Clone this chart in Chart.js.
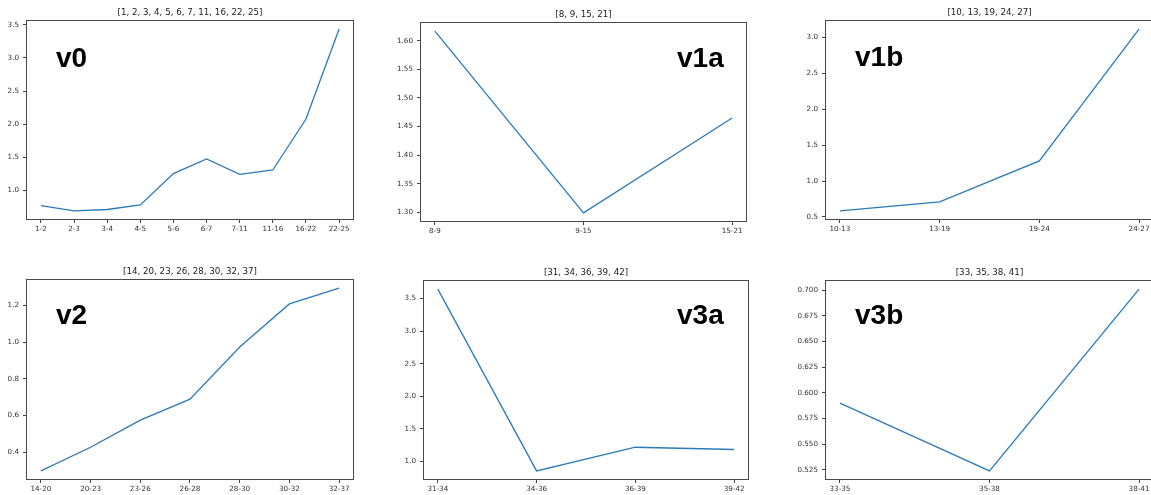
<!DOCTYPE html>
<html>
<head>
<meta charset="utf-8">
<script src="https://cdn.jsdelivr.net/npm/chart.js@4/dist/chart.umd.min.js"></script>
<style>
  html, body { margin: 0; padding: 0; background: #fff; overflow: hidden; }
  body { width: 1151px; height: 495px; position: relative; }
  canvas { position: absolute; }
</style>
</head>
<body>
<script>
// ---- data: pair ranges (x) and the value measured for each pair (y) ----
const v0Title  = '[1, 2, 3, 4, 5, 6, 7, 11, 16, 22, 25]';
const v0Labels = ['1-2', '2-3', '3-4', '4-5', '5-6', '6-7', '7-11', '11-16', '16-22', '22-25'];
const v0Values = [0.774, 0.693, 0.714, 0.783, 1.256, 1.476, 1.245, 1.310, 2.078, 3.434];
const v0Ticks  = [1.0, 1.5, 2.0, 2.5, 3.0, 3.5];

const v1aTitle  = '[8, 9, 15, 21]';
const v1aLabels = ['8-9', '9-15', '15-21'];
const v1aValues = [1.617, 1.299, 1.465];
const v1aTicks  = [1.30, 1.35, 1.40, 1.45, 1.50, 1.55, 1.60];

const v1bTitle  = '[10, 13, 19, 24, 27]';
const v1bLabels = ['10-13', '13-19', '19-24', '24-27'];
const v1bValues = [0.584, 0.709, 1.280, 3.113];
const v1bTicks  = [0.5, 1.0, 1.5, 2.0, 2.5, 3.0];

const v2Title  = '[14, 20, 23, 26, 28, 30, 32, 37]';
const v2Labels = ['14-20', '20-23', '23-26', '26-28', '28-30', '30-32', '32-37'];
const v2Values = [0.298, 0.427, 0.575, 0.689, 0.974, 1.209, 1.295];
const v2Ticks  = [0.4, 0.6, 0.8, 1.0, 1.2];

const v3aTitle  = '[31, 34, 36, 39, 42]';
const v3aLabels = ['31-34', '34-36', '36-39', '39-42'];
const v3aValues = [3.643, 0.856, 1.219, 1.184];
const v3aTicks  = [1.0, 1.5, 2.0, 2.5, 3.0, 3.5];

const v3bTitle  = '[33, 35, 38, 41]';
const v3bLabels = ['33-35', '35-38', '38-41'];
const v3bValues = [0.590, 0.524, 0.701];
const v3bTicks  = [0.525, 0.550, 0.575, 0.600, 0.625, 0.650, 0.675, 0.700];

// ---- panel layout: plot box (left, top, right, bottom) in page pixels ----
const panels = [
  { tag: 'v0',  title: v0Title,  labels: v0Labels,  values: v0Values,  ticks: v0Ticks,  dec: 1, box: [26, 20, 354, 220],   tagX: 30,  tagY: 47 },
  { tag: 'v1a', title: v1aTitle, labels: v1aLabels, values: v1aValues, ticks: v1aTicks, dec: 2, box: [420, 22, 747, 222],  tagX: 257, tagY: 45 },
  { tag: 'v1b', title: v1bTitle, labels: v1bLabels, values: v1bValues, ticks: v1bTicks, dec: 1, box: [825, 20, 1154, 220], tagX: 30,  tagY: 46 },
  { tag: 'v2',  title: v2Title,  labels: v2Labels,  values: v2Values,  ticks: v2Ticks,  dec: 1, box: [26, 279, 354, 480],  tagX: 30,  tagY: 45 },
  { tag: 'v3a', title: v3aTitle, labels: v3aLabels, values: v3aValues, ticks: v3aTicks, dec: 1, box: [423, 280, 749, 480], tagX: 254, tagY: 44 },
  { tag: 'v3b', title: v3bTitle, labels: v3bLabels, values: v3bValues, ticks: v3bTicks, dec: 3, box: [825, 280, 1154, 480], tagX: 30, tagY: 44 }
];

const PAD_L = 60, PAD_T = 22, PAD_R = 14, PAD_B = 20;
const TICK_FONT = { family: 'DejaVu Sans', size: 7.2 };
const LINE_COLOR = '#2a7ab8';

// frame around the plot box, the small title above it and the big panel tag
const panelDecor = {
  id: 'panelDecor',
  afterDraw(chart, args, opts) {
    const { ctx, chartArea: a } = chart;
    ctx.save();
    ctx.strokeStyle = '#4a4a4a';
    ctx.lineWidth = 1;
    ctx.strokeRect(Math.round(a.left) + 0.5, Math.round(a.top) + 0.5,
                   Math.round(a.right - a.left) - 1, Math.round(a.bottom - a.top) - 1);
    ctx.fillStyle = '#222';
    ctx.font = '8.7px "DejaVu Sans"';
    ctx.textAlign = 'center';
    ctx.textBaseline = 'alphabetic';
    ctx.fillText(opts.title, (a.left + a.right) / 2, a.top - 5);
    ctx.fillStyle = '#000';
    ctx.font = 'bold 28px "Liberation Sans", Arial, sans-serif';
    ctx.textAlign = 'left';
    ctx.fillText(opts.tag, a.left + opts.tagX, a.top + opts.tagY);
    ctx.restore();
  }
};

panels.forEach(p => {
  const [L, T, R, B] = p.box;
  const cv = document.createElement('canvas');
  const w = R - L + PAD_L + PAD_R, h = B - T + PAD_T + PAD_B;
  cv.width = w; cv.height = h;
  cv.style.left = (L - PAD_L) + 'px';
  cv.style.top = (T - PAD_T) + 'px';
  cv.style.width = w + 'px';
  cv.style.height = h + 'px';
  document.body.appendChild(cv);

  const n = p.labels.length;
  const lo = Math.min(...p.values), hi = Math.max(...p.values);
  const m = (hi - lo) * 0.05;

  new Chart(cv, {
    type: 'line',
    data: {
      datasets: [{
        data: p.values.map((v, i) => ({ x: i, y: v })),
        borderColor: LINE_COLOR,
        borderWidth: 1.3,
        pointRadius: 0,
        tension: 0,
        fill: false
      }]
    },
    options: {
      responsive: false,
      animation: false,
      devicePixelRatio: 1,
      layout: { padding: { left: 0, top: PAD_T, right: PAD_R, bottom: 0 } },
      plugins: {
        legend: { display: false },
        tooltip: { enabled: false },
        panelDecor: { title: p.title, tag: p.tag, tagX: p.tagX, tagY: p.tagY }
      },
      scales: {
        x: {
          type: 'linear',
          min: -0.05 * (n - 1),
          max: (n - 1) * 1.05,
          afterBuildTicks: s => { s.ticks = p.labels.map((_, i) => ({ value: i })); },
          afterFit: s => { s.height = PAD_B; },
          grid: { drawOnChartArea: false, drawTicks: true, tickLength: 3, tickColor: '#444', tickWidth: 1 },
          border: { display: false },
          ticks: {
            autoSkip: false, maxRotation: 0, padding: 2,
            color: '#333', font: TICK_FONT,
            callback: v => p.labels[v]
          }
        },
        y: {
          type: 'linear',
          min: lo - m,
          max: hi + m,
          afterBuildTicks: s => { s.ticks = p.ticks.map(v => ({ value: v })); },
          afterFit: s => { s.width = PAD_L; },
          grid: { drawOnChartArea: false, drawTicks: true, tickLength: 3, tickColor: '#444', tickWidth: 1 },
          border: { display: false },
          ticks: {
            padding: 4,
            color: '#333', font: TICK_FONT,
            callback: v => Number(v).toFixed(p.dec)
          }
        }
      }
    },
    plugins: [panelDecor]
  });
});
</script>
</body>
</html>
